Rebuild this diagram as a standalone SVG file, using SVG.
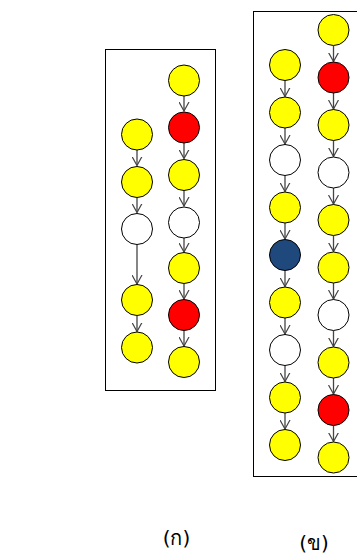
<svg xmlns="http://www.w3.org/2000/svg" width="357" height="554" viewBox="0 0 357 554">
<defs>
<marker id="ah" markerUnits="userSpaceOnUse" markerWidth="10" markerHeight="11" refX="9" refY="5" orient="auto" viewBox="0 0 10 10">
<path d="M0,0 L9,5 L0,10" fill="none" stroke="#444" stroke-width="1.2"/>
</marker>
<style>
.box{fill:none;stroke:#000;stroke-width:1}
.n{stroke:#000;stroke-width:1}
.y{fill:#FFFF00}.r{fill:#FF0000}.w{fill:#FFFFFF}.b{fill:#1F497D}
.e line{stroke:#444;stroke-width:1.3;marker-end:url(#ah)}
.lbl{font-family:"DejaVu Sans","Noto Sans",sans-serif;font-size:20px;fill:#000;text-anchor:middle}
</style>
</defs>
<rect width="357" height="554" fill="#fff"/>
<rect class="box" x="105.5" y="49.5" width="110" height="341"/>
<rect class="box" x="253.5" y="11.5" width="110" height="465"/>
<g id="edges" class="e">
<line x1="137" y1="150" x2="137" y2="165.5"/>
<line x1="137" y1="197.5" x2="137" y2="212.5"/>
<line x1="137" y1="244.5" x2="137" y2="284"/>
<line x1="137" y1="316" x2="137" y2="331.5"/>
<line x1="184" y1="96" x2="184" y2="111"/>
<line x1="184" y1="143" x2="184" y2="158.5"/>
<line x1="184" y1="190.5" x2="184" y2="206"/>
<line x1="184" y1="238" x2="184" y2="252"/>
<line x1="184" y1="284" x2="184" y2="299"/>
<line x1="184" y1="331" x2="184" y2="346"/>
<line x1="285" y1="80.5" x2="285" y2="96.5"/>
<line x1="285" y1="128" x2="285" y2="144"/>
<line x1="285" y1="175.5" x2="285" y2="191.5"/>
<line x1="285" y1="223" x2="285" y2="239"/>
<line x1="285" y1="270.5" x2="285" y2="286.5"/>
<line x1="285" y1="318" x2="285" y2="334"/>
<line x1="285" y1="365.5" x2="285" y2="381.5"/>
<line x1="285" y1="413" x2="285" y2="429"/>
<line x1="333.5" y1="45.5" x2="333.5" y2="61.5"/>
<line x1="333.5" y1="93" x2="333.5" y2="109"/>
<line x1="333.5" y1="140.5" x2="333.5" y2="156.5"/>
<line x1="333.5" y1="188" x2="333.5" y2="204"/>
<line x1="333.5" y1="235.5" x2="333.5" y2="251.5"/>
<line x1="333.5" y1="283" x2="333.5" y2="299"/>
<line x1="333.5" y1="330.5" x2="333.5" y2="346.5"/>
<line x1="333.5" y1="378" x2="333.5" y2="394"/>
<line x1="333.5" y1="425.5" x2="333.5" y2="441.5"/>
</g>
<g id="a1"><circle class="n y" cx="137" cy="134.5" r="15.5"/></g>
<g id="a2"><circle class="n y" cx="137" cy="182" r="15.5"/></g>
<g id="a3"><circle class="n w" cx="137" cy="229" r="15.5"/></g>
<g id="a4"><circle class="n y" cx="137" cy="300" r="15.5"/></g>
<g id="a5"><circle class="n y" cx="137" cy="347.5" r="15.5"/></g>
<g id="b1"><circle class="n y" cx="184" cy="80.5" r="15.5"/></g>
<g id="b2"><circle class="n r" cx="184" cy="127.5" r="15.5"/></g>
<g id="b3"><circle class="n y" cx="184" cy="175" r="15.5"/></g>
<g id="b4"><circle class="n w" cx="184" cy="222.5" r="15.5"/></g>
<g id="b5"><circle class="n y" cx="184" cy="268" r="15.5"/></g>
<g id="b6"><circle class="n r" cx="184" cy="315" r="15.5"/></g>
<g id="b7"><circle class="n y" cx="184" cy="362" r="15.5"/></g>
<g id="c1"><circle class="n y" cx="285" cy="65" r="15.5"/></g>
<g id="c2"><circle class="n y" cx="285" cy="112.5" r="15.5"/></g>
<g id="c3"><circle class="n w" cx="285" cy="160" r="15.5"/></g>
<g id="c4"><circle class="n y" cx="285" cy="207.5" r="15.5"/></g>
<g id="c5"><circle class="n b" cx="285" cy="255" r="15.5"/></g>
<g id="c6"><circle class="n y" cx="285" cy="302.5" r="15.5"/></g>
<g id="c7"><circle class="n w" cx="285" cy="350" r="15.5"/></g>
<g id="c8"><circle class="n y" cx="285" cy="397.5" r="15.5"/></g>
<g id="c9"><circle class="n y" cx="285" cy="445" r="15.5"/></g>
<g id="d1"><circle class="n y" cx="333.5" cy="30" r="15.5"/></g>
<g id="d2"><circle class="n r" cx="333.5" cy="77.5" r="15.5"/></g>
<g id="d3"><circle class="n y" cx="333.5" cy="125" r="15.5"/></g>
<g id="d4"><circle class="n w" cx="333.5" cy="172.5" r="15.5"/></g>
<g id="d5"><circle class="n y" cx="333.5" cy="220" r="15.5"/></g>
<g id="d6"><circle class="n y" cx="333.5" cy="267.5" r="15.5"/></g>
<g id="d7"><circle class="n w" cx="333.5" cy="315" r="15.5"/></g>
<g id="d8"><circle class="n y" cx="333.5" cy="362.5" r="15.5"/></g>
<g id="d9"><circle class="n r" cx="333.5" cy="410" r="15.5"/></g>
<g id="d10"><circle class="n y" cx="333.5" cy="457.5" r="15.5"/></g>
<text class="lbl" x="176.5" y="545">(ก)</text>
<text class="lbl" x="314" y="550">(ข)</text>
</svg>
